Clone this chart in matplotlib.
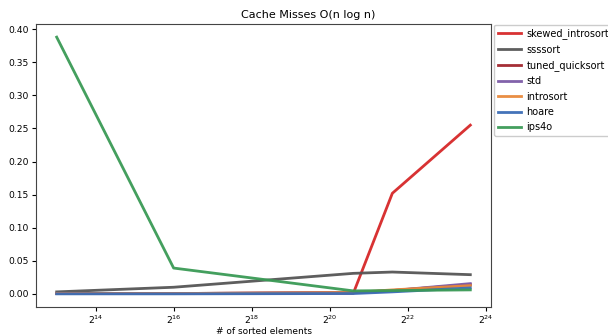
import matplotlib
matplotlib.use("Agg")
import matplotlib.pyplot as plt

sizes = [8192, 65536, 1600000, 3200000, 12800000]

series_names = ["skewed_introsort", "ssssort", "tuned_quicksort", "std",
                "introsort", "hoare", "ips4o"]
skewed_introsort = [0.0005, 0.0005, 0.001, 0.152, 0.255]
ssssort = [0.003, 0.010, 0.031, 0.033, 0.029]
tuned_quicksort = [0.0005, 0.0005, 0.002, 0.005, 0.014]
std = [0.0005, 0.0005, 0.002, 0.005, 0.0155]
introsort = [0.0005, 0.0005, 0.002, 0.006, 0.0125]
hoare = [0.0, 0.0, 0.0005, 0.003, 0.009]
ips4o = [0.388, 0.039, 0.0045, 0.005, 0.006]

colors = ["#d62728", "#555555", "#a0222a", "#7b5aa6", "#e8883a", "#3a6bb5", "#3a9a55"]
values = [skewed_introsort, ssssort, tuned_quicksort, std, introsort, hoare, ips4o]

fig = plt.figure(figsize=(6.08, 3.36), dpi=100)
ax = fig.add_axes([36 / 608, 1 - 306.7 / 336, (491 - 36) / 608, (306.7 - 24.3) / 336])

for name, vals, c in zip(series_names, values, colors):
    ax.plot(sizes, vals, color=c, lw=2.0, label=name, alpha=0.95)

ax.set_xscale("log", base=2)
fig.text(308.5 / 608, 1 - 17.5 / 336, "Cache Misses O(n log n)", fontsize=8,
         ha="center", va="baseline")
ax.set_xlabel("# of sorted elements", fontsize=6.5, labelpad=1)
ax.tick_params(labelsize=6.6, length=3, pad=2)
ax.minorticks_off()
for s in ax.spines.values():
    s.set_color("#444444")

ax.legend(loc="upper left", bbox_to_anchor=(1.003, 1.006), fontsize=7,
          handlelength=2.3, labelspacing=0.55, handletextpad=0.6,
          borderaxespad=0.2, framealpha=1, edgecolor="#cccccc")

fig.savefig("out.png", dpi=100)
